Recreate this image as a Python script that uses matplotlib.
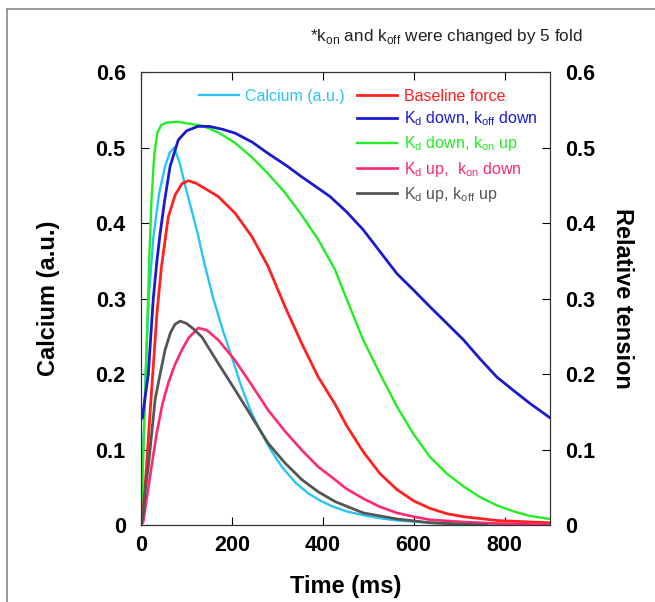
import numpy as np
import matplotlib
matplotlib.use("Agg")
import matplotlib.pyplot as plt
from matplotlib.lines import Line2D

plt.rcParams['font.family'] = ['Liberation Sans', 'DejaVu Sans']
plt.rcParams['mathtext.fontset'] = 'custom'
plt.rcParams['mathtext.rm'] = 'Liberation Sans'

# Data (time in ms, value)
t_ca = [0, 5, 10, 17, 27, 40, 53, 63, 73, 85, 97, 110, 125, 140, 159, 180, 200, 220, 240, 262,
        285, 310, 340, 368, 395, 420, 452, 489, 526, 563, 636, 710, 800, 900]
v_ca = [0, 0.10, 0.20, 0.30, 0.38, 0.44, 0.475, 0.493, 0.50, 0.48, 0.45, 0.42, 0.385, 0.345, 0.30,
        0.258, 0.222, 0.185, 0.153, 0.125, 0.10, 0.077, 0.056, 0.042, 0.032, 0.025, 0.018, 0.013,
        0.009, 0.006, 0.003, 0.001, 0.0, 0.0]

t_base = [0, 5, 12, 20, 27, 35, 45, 60, 75, 90, 104, 120, 140, 170, 207, 244, 280, 317, 354, 390,
          427, 452, 489, 526, 563, 600, 636, 673, 710, 783, 856, 900]
v_base = [0, 0.02, 0.077, 0.15, 0.21, 0.28, 0.342, 0.408, 0.437, 0.452, 0.456, 0.453, 0.446, 0.435,
          0.413, 0.382, 0.342, 0.289, 0.24, 0.196, 0.16, 0.132, 0.097, 0.068, 0.047, 0.032, 0.022,
          0.015, 0.011, 0.006, 0.004, 0.003]

t_kd_koff_down = [0, 3, 8, 16, 27, 35, 42, 52, 64, 82, 100, 125, 150, 180, 207, 245, 280, 320, 354,
                  390, 416, 452, 489, 526, 563, 600, 636, 673, 710, 746, 783, 820, 856, 900]
v_kd_koff_down = [0.14, 0.142, 0.165, 0.20, 0.30, 0.35, 0.386, 0.43, 0.475, 0.51, 0.522, 0.528, 0.528,
                  0.524, 0.519, 0.507, 0.492, 0.476, 0.461, 0.446, 0.435, 0.415, 0.391, 0.362, 0.333,
                  0.311, 0.289, 0.267, 0.245, 0.22, 0.196, 0.178, 0.161, 0.142]

t_kd_kon_up = [0, 3, 8, 13, 18, 23, 29, 36, 45, 56, 80, 112, 134, 170, 207, 244, 280, 317, 354, 390,
               427, 452, 489, 526, 563, 599, 636, 673, 710, 746, 783, 820, 856, 900]
v_kd_kon_up = [0, 0.06, 0.15, 0.25, 0.35, 0.43, 0.49, 0.52, 0.53, 0.533, 0.534, 0.531, 0.529, 0.52,
               0.506, 0.487, 0.465, 0.44, 0.41, 0.378, 0.338, 0.30, 0.245, 0.20, 0.157, 0.121, 0.09,
               0.068, 0.051, 0.037, 0.026, 0.018, 0.012, 0.008]

t_kd_up_kon_down = [0, 5, 12, 20, 34, 47, 60, 75, 90, 105, 126, 145, 170, 207, 244, 280, 317, 354,
                    390, 427, 452, 489, 526, 563, 600, 636, 710, 783, 900]
v_kd_up_kon_down = [0, 0.004, 0.033, 0.065, 0.12, 0.16, 0.188, 0.213, 0.232, 0.248, 0.261, 0.258,
                    0.245, 0.218, 0.185, 0.152, 0.124, 0.099, 0.077, 0.06, 0.048, 0.035, 0.024, 0.016,
                    0.011, 0.007, 0.004, 0.002, 0.001]

t_kd_koff_up = [0, 5, 10, 16, 31, 42, 53, 65, 75, 86, 100, 115, 134, 170, 207, 244, 280, 317, 354,
                390, 427, 489, 563, 636, 710, 760]
v_kd_koff_up = [0, 0.015, 0.05, 0.077, 0.166, 0.20, 0.232, 0.255, 0.266, 0.27, 0.267, 0.26, 0.249,
                0.214, 0.179, 0.143, 0.108, 0.082, 0.06, 0.044, 0.031, 0.016, 0.008, 0.003, 0.001, 0.0]

fig = plt.figure(figsize=(6.55, 6.02), dpi=100)
ax = fig.add_axes([0.2153, 0.1279, 0.6244, 0.7525])

lw = 1.7
l_ca, = ax.plot(t_ca, v_ca, color='#29c4f4', lw=lw, label='Calcium (a.u.)')
l2, = ax.plot(t_kd_kon_up, v_kd_kon_up, color='#22ee22', lw=lw,
              label=r'K$_\mathregular{d}$ down, k$_\mathregular{on}$ up')
l1, = ax.plot(t_kd_koff_down, v_kd_koff_down, color='#1a1ad0', lw=lw + 0.3,
              label=r'K$_\mathregular{d}$ down, k$_\mathregular{off}$ down')
l0, = ax.plot(t_base, v_base, color='#ff2020', lw=lw + 0.3, label='Baseline force')
l3, = ax.plot(t_kd_up_kon_down, v_kd_up_kon_down, color='#ff2a6e', lw=lw + 0.2,
              label=r'K$_\mathregular{d}$ up,  k$_\mathregular{on}$ down')
l4, = ax.plot(t_kd_koff_up, v_kd_koff_up, color='#555555', lw=lw + 0.3,
              label=r'K$_\mathregular{d}$ up, k$_\mathregular{off}$ up')

ax.set_xlim(0, 900)
ax.set_ylim(0, 0.6)
ax.set_xticks([0, 200, 400, 600, 800])
ax.set_xticklabels(['0', '200', '400', '600', '800'])
yt = [0, 0.1, 0.2, 0.3, 0.4, 0.5, 0.6]
ylab = ['0', '0.1', '0.2', '0.3', '0.4', '0.5', '0.6']
ax.set_yticks(yt)
ax.set_yticklabels(ylab)
ax.tick_params(direction='in', top=True, length=6, labelsize=15.5)
ax.tick_params(axis='x', pad=7)
ax.tick_params(axis='y', pad=11)
for lab in ax.get_xticklabels() + ax.get_yticklabels():
    lab.set_fontweight('bold')

ax2 = ax.twinx()
ax2.set_ylim(0, 0.6)
ax2.set_yticks(yt)
ax2.set_yticklabels(ylab)
ax2.tick_params(direction='in', length=6, labelsize=15.5, pad=11)
for lab in ax2.get_yticklabels():
    lab.set_fontweight('bold')

for a in (ax, ax2):
    for s in a.spines.values():
        s.set_color('#333333')

ax.set_xlabel('Time (ms)', fontsize=17, fontweight='bold', labelpad=14)
ax.set_ylabel('Calcium (a.u.)', fontsize=17, fontweight='bold', labelpad=26)
ax2.set_ylabel('Relative tension', fontsize=17, fontweight='bold', rotation=270, labelpad=28)

leg1 = ax.legend(handles=[l_ca], loc='upper left', bbox_to_anchor=(0.107, 0.995),
                 frameon=False, fontsize=11.5, handlelength=2.5, handletextpad=0.35,
                 labelcolor='linecolor')
ax.add_artist(leg1)
ax.legend(handles=[l0, l1, l2, l3, l4], loc='upper left', bbox_to_anchor=(0.494, 0.995),
          frameon=False, fontsize=11.5, handlelength=2.5, handletextpad=0.4,
          labelspacing=0.38, labelcolor='linecolor')

fig.text(0.473, 0.932, r'*k$_\mathregular{on}$ and k$_\mathregular{off}$ were changed by 5 fold',
         fontsize=12.3, color='#222222')

# outer frame (top and left edges)
fig.add_artist(Line2D([7 / 655, 1], [1 - 9 / 602, 1 - 9 / 602], color='#888888', lw=1.2))
fig.add_artist(Line2D([7 / 655, 7 / 655], [0, 1 - 9 / 602], color='#888888', lw=1.2))

fig.savefig('out.png', dpi=100)
